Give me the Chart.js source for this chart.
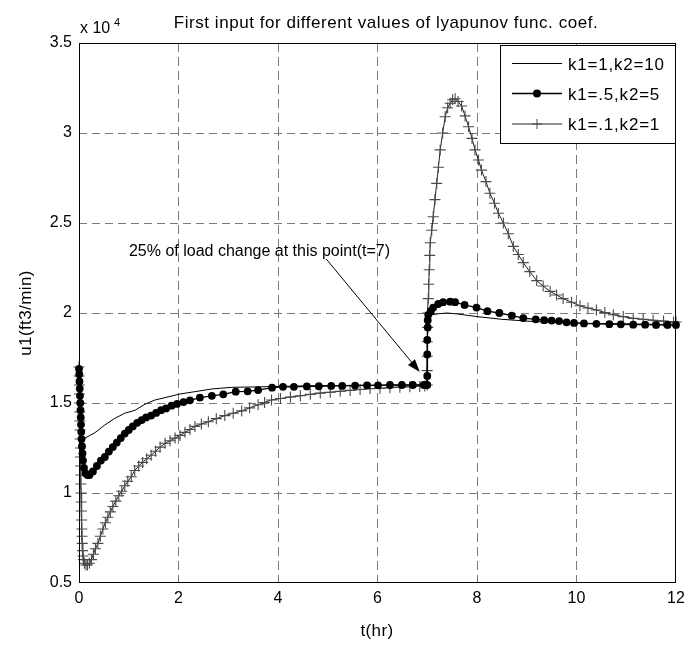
<!DOCTYPE html>
<html>
<head>
<meta charset="utf-8">
<script src="https://cdn.jsdelivr.net/npm/chart.js@4/dist/chart.umd.min.js"></script>
<style>
  html, body { margin: 0; padding: 0; background: #fff; }
  canvas { display: block; }
</style>
</head>
<body>
<canvas id="grafico" width="700" height="645"></canvas>
<script>
// u1 in units of 10^4 ft3/min, t in hours

// k1=1, k2=10
const tK1 = [0, 0.02, 0.12, 0.32, 0.52, 0.72, 0.92, 1.13, 1.33, 1.53, 1.73, 2.03, 2.33, 2.67, 3.07, 3.67, 4.5, 5.5, 6.5, 6.99,
  7.0, 7.02, 7.05, 7.1, 7.2, 7.4, 7.6, 8, 8.5, 9, 9.5, 10, 11, 12]
const uK1 = [1.68, 1.30, 1.305, 1.335, 1.378, 1.415, 1.443, 1.46, 1.494, 1.517, 1.53, 1.55, 1.563, 1.578, 1.587, 1.59, 1.595, 1.598, 1.6, 1.6,
  1.85, 1.95, 1.98, 1.99, 1.995, 2.0, 1.995, 1.98, 1.965, 1.955, 1.948, 1.943, 1.94, 1.935]

// k1=.5, k2=5
const tK05 = [0, 0.005, 0.01, 0.015, 0.02, 0.025, 0.03, 0.035, 0.04, 0.045, 0.05, 0.06, 0.07, 0.08, 0.1, 0.13, 0.17, 0.21,
  0.28, 0.36, 0.44, 0.52, 0.6, 0.68, 0.76, 0.84, 0.92, 1.0, 1.08, 1.17, 1.26, 1.35, 1.45, 1.55, 1.65, 1.75, 1.86, 1.97,
  2.1, 2.23, 2.43, 2.67, 2.9, 3.15, 3.39, 3.6, 3.88, 4.1, 4.32, 4.58, 4.82, 5.07, 5.29, 5.55, 5.79, 6.01, 6.25, 6.49, 6.71, 6.93,
  7.0, 7.0, 7.0, 7.0, 7.01, 7.01, 7.02, 7.07, 7.12, 7.22, 7.32, 7.46, 7.56, 7.75, 7.99, 8.21, 8.45, 8.7, 8.93, 9.18, 9.35,
  9.5, 9.65, 9.8, 9.95, 10.15, 10.4, 10.66, 10.89, 11.14, 11.38, 11.6, 11.83, 12.0]
const uK05 = [1.69, 1.66, 1.62, 1.58, 1.54, 1.50, 1.46, 1.42, 1.38, 1.34, 1.30, 1.26, 1.22, 1.18, 1.14, 1.11, 1.10, 1.10,
  1.12, 1.15, 1.18, 1.20, 1.23, 1.255, 1.28, 1.305, 1.33, 1.35, 1.37, 1.39, 1.405, 1.42, 1.43, 1.445, 1.46, 1.47, 1.485, 1.495,
  1.505, 1.515, 1.53, 1.54, 1.548, 1.563, 1.565, 1.572, 1.585, 1.59, 1.59, 1.592, 1.593, 1.595, 1.595, 1.597, 1.598, 1.598, 1.6, 1.6, 1.6, 1.6,
  1.6, 1.65, 1.77, 1.85, 1.92, 1.96, 1.99, 2.01, 2.03, 2.05, 2.06, 2.063, 2.06, 2.045, 2.03, 2.01, 2.0, 1.985, 1.972, 1.965, 1.96,
  1.958, 1.955, 1.948, 1.945, 1.942, 1.94, 1.938, 1.937, 1.935, 1.935, 1.934, 1.934, 1.934]

// k1=.1, k2=1
const tK01 = [0, 0.003, 0.006, 0.009, 0.012, 0.015, 0.018, 0.021, 0.024, 0.027, 0.03, 0.033, 0.036, 0.039, 0.042, 0.045, 0.048,
  0.052, 0.056, 0.06, 0.065, 0.07, 0.08, 0.09, 0.11, 0.14, 0.17, 0.21, 0.25, 0.29,
  0.33, 0.38, 0.43, 0.48, 0.53, 0.58, 0.63, 0.68, 0.74, 0.8, 0.86, 0.92, 0.98, 1.05, 1.12, 1.2, 1.28, 1.36, 1.45, 1.54,
  1.63, 1.73, 1.83, 1.93, 2.03, 2.13, 2.23, 2.33, 2.46, 2.6, 2.76, 2.93, 3.1, 3.27, 3.43, 3.6, 3.73, 3.87, 4.05, 4.25,
  4.45, 4.65, 4.85, 5.05, 5.25, 5.45, 5.65, 5.85, 6.05, 6.25, 6.45, 6.65, 6.85, 6.95,
  7.0, 7.0, 7.0, 7.0, 7.01, 7.01, 7.02, 7.03, 7.04, 7.05, 7.06, 7.09, 7.12, 7.155, 7.19, 7.225, 7.26, 7.31, 7.36, 7.41,
  7.46, 7.51, 7.56, 7.62, 7.69, 7.76, 7.83, 7.9, 7.96, 8.03, 8.09, 8.18, 8.26, 8.35, 8.43, 8.53, 8.63, 8.73, 8.83, 8.93,
  9.06, 9.2, 9.33, 9.47, 9.6, 9.73, 9.9, 10.07, 10.23, 10.4, 10.57, 10.74, 10.94, 11.14, 11.34, 11.54, 11.75, 11.95, 12.0]
const uK01 = [1.70, 1.65, 1.60, 1.55, 1.50, 1.45, 1.40, 1.35, 1.30, 1.25, 1.20, 1.15, 1.10, 1.05, 1.0, 0.95, 0.90,
  0.85, 0.80, 0.76, 0.72, 0.68, 0.65, 0.63, 0.61, 0.60, 0.60, 0.61, 0.63, 0.66,
  0.69, 0.72, 0.76, 0.80, 0.835, 0.865, 0.895, 0.925, 0.955, 0.985, 1.01, 1.04, 1.065, 1.09, 1.125, 1.15, 1.17, 1.19, 1.21, 1.232,
  1.255, 1.276, 1.29, 1.305, 1.32, 1.337, 1.353, 1.37, 1.383, 1.396, 1.413, 1.43, 1.443, 1.456, 1.473, 1.49, 1.503, 1.517, 1.525, 1.533,
  1.54, 1.548, 1.555, 1.56, 1.565, 1.57, 1.575, 1.58, 1.582, 1.585, 1.588, 1.59, 1.592, 1.594,
  1.6, 1.68, 1.76, 1.84, 1.92, 2.0, 2.08, 2.16, 2.24, 2.32, 2.39, 2.46, 2.535, 2.63, 2.72, 2.81, 2.906, 3.0, 3.09, 3.14,
  3.165, 3.185, 3.19, 3.175, 3.15, 3.095, 3.035, 2.97, 2.906, 2.85, 2.794, 2.73, 2.665, 2.61, 2.554, 2.5, 2.44, 2.37, 2.325, 2.28,
  2.23, 2.18, 2.15, 2.12, 2.1, 2.08, 2.06, 2.04, 2.028, 2.017, 2.003, 1.99, 1.98, 1.97, 1.965, 1.96, 1.955, 1.95, 1.95]

const rotulos = ['k1=1,k2=10', 'k1=.5,k2=5', 'k1=.1,k2=1']
const xTicks = [0, 2, 4, 6, 8, 10, 12]
const yTicks = [0.5, 1, 1.5, 2, 2.5, 3, 3.5]

// arrow of the note: tail and head, in (t, u1)
const notaTexto = '25% of load change at this point(t=7)'
const setaDe = { x: 4.97, y: 2.3 }
const setaAte = { x: 6.85, y: 1.672 }

const FONTE = 'Arial, "Liberation Sans", sans-serif'
const pontos = (ts, us) => ts.map((t, i) => ({ x: t, y: us[i] }))

const eixoBorda = v => (v === 0 || v === 12 || v === 0.5 || v === 3.5) ? 'rgba(0,0,0,0)' : '#7a7a7a'

// box, titles, legend and the note on top of the plot
const extras = {
  id: 'extras',
  afterDraw(chart) {
    const { ctx, chartArea: a, scales } = chart
    const sx = scales.x, sy = scales.y
    ctx.save()

    ctx.strokeStyle = '#000'
    ctx.lineWidth = 1
    ctx.setLineDash([])
    ctx.strokeRect(a.left + 0.5, a.top + 0.5, a.right - a.left - 1, a.bottom - a.top - 1)

    ctx.fillStyle = '#000'
    ctx.textBaseline = 'alphabetic'
    ctx.textAlign = 'center'
    ctx.font = '17px ' + FONTE
    ctx.letterSpacing = '0.55px'
    ctx.fillText('First input for different values of lyapunov func. coef.', 386, 28)

    ctx.letterSpacing = '0.4px'
    ctx.fillText('t(hr)', 377, 636)

    ctx.save()
    ctx.translate(31, (a.top + a.bottom) / 2)
    ctx.rotate(-Math.PI / 2)
    ctx.fillText('u1(ft3/min)', 0, 0)
    ctx.restore()

    ctx.letterSpacing = '0px'
    ctx.textAlign = 'left'
    ctx.font = '16px ' + FONTE
    ctx.fillText('x 10', 80, 33)
    ctx.font = '11px ' + FONTE
    ctx.fillText('4', 114, 26)

    // note and arrow
    ctx.font = '16px ' + FONTE
    ctx.textAlign = 'right'
    ctx.fillText(notaTexto, 390, 256)
    const x1 = sx.getPixelForValue(setaDe.x), y1 = sy.getPixelForValue(setaDe.y)
    const x2 = sx.getPixelForValue(setaAte.x), y2 = sy.getPixelForValue(setaAte.y)
    const ang = Math.atan2(y2 - y1, x2 - x1)
    ctx.beginPath()
    ctx.moveTo(x1, y1)
    ctx.lineTo(x2 - 10 * Math.cos(ang), y2 - 10 * Math.sin(ang))
    ctx.stroke()
    ctx.beginPath()
    ctx.moveTo(x2, y2)
    ctx.lineTo(x2 - 13 * Math.cos(ang) + 4.5 * Math.sin(ang), y2 - 13 * Math.sin(ang) - 4.5 * Math.cos(ang))
    ctx.lineTo(x2 - 13 * Math.cos(ang) - 4.5 * Math.sin(ang), y2 - 13 * Math.sin(ang) + 4.5 * Math.cos(ang))
    ctx.closePath()
    ctx.fill()

    // legend
    const lx = 500, ly = 45, lw = 175, lh = 98
    ctx.fillStyle = '#fff'
    ctx.fillRect(lx, ly, lw, lh)
    ctx.strokeStyle = '#000'
    ctx.strokeRect(lx + 0.5, ly + 0.5, lw, lh)
    const linhas = [63.5, 93.5, 124]
    chart.data.datasets.forEach((ds, i) => {
      const y = linhas[i]
      ctx.strokeStyle = ds.borderColor
      ctx.lineWidth = ds.borderWidth
      ctx.beginPath()
      ctx.moveTo(512, y)
      ctx.lineTo(562, y)
      ctx.stroke()
      if (ds.pointStyle === 'circle') {
        ctx.fillStyle = '#000'
        ctx.beginPath()
        ctx.arc(537, y, 4, 0, Math.PI * 2)
        ctx.fill()
      } else if (ds.pointStyle === 'cross') {
        ctx.strokeStyle = ds.pointBorderColor
        ctx.lineWidth = 1
        ctx.beginPath()
        ctx.moveTo(537, y - 5); ctx.lineTo(537, y + 5)
        ctx.moveTo(532, y); ctx.lineTo(542, y)
        ctx.stroke()
      }
      ctx.fillStyle = '#000'
      ctx.textAlign = 'left'
      ctx.font = '17px ' + FONTE
      ctx.letterSpacing = '0.8px'
      ctx.fillText(ds.label, 568, y + 6)
      ctx.letterSpacing = '0px'
    })
    ctx.restore()
  }
}

new Chart(document.getElementById('grafico'), {
  type: 'scatter',
  data: {
    datasets: [
      {
        label: rotulos[0],
        data: pontos(tK1, uK1),
        showLine: true,
        borderColor: '#000',
        borderWidth: 1,
        pointRadius: 0,
        clip: false
      },
      {
        label: rotulos[1],
        data: pontos(tK05, uK05),
        showLine: true,
        borderColor: '#000',
        borderWidth: 1.3,
        pointStyle: 'circle',
        pointRadius: 3.9,
        pointBackgroundColor: '#000',
        pointBorderColor: '#000',
        pointBorderWidth: 0,
        clip: false
      },
      {
        label: rotulos[2],
        data: pontos(tK01, uK01),
        showLine: true,
        borderColor: '#222',
        borderWidth: 1,
        pointStyle: 'cross',
        pointRadius: 5.5,
        pointBorderColor: '#4a4a4a',
        pointBorderWidth: 1.1,
        clip: false
      }
    ]
  },
  options: {
    responsive: false,
    animation: false,
    layout: { padding: { top: 43, right: 24, left: 0, bottom: 0 } },
    plugins: { legend: { display: false }, tooltip: { enabled: false } },
    scales: {
      x: {
        type: 'linear',
        min: 0,
        max: 12,
        afterBuildTicks: s => { s.ticks = xTicks.map(v => ({ value: v })) },
        afterFit: s => { s.height = 62 },
        ticks: { color: '#000', font: { family: FONTE, size: 16 }, padding: 6, maxRotation: 0, callback: v => String(v) },
        grid: { color: c => eixoBorda(c.tick ? c.tick.value : -1), lineWidth: 1, drawTicks: false },
        border: { display: false, dash: [9, 5] }
      },
      y: {
        type: 'linear',
        min: 0.5,
        max: 3.5,
        afterBuildTicks: s => { s.ticks = yTicks.map(v => ({ value: v })) },
        afterFit: s => { s.width = 79 },
        ticks: { color: '#000', font: { family: FONTE, size: 16 }, padding: 7, callback: v => String(v) },
        grid: { color: c => eixoBorda(c.tick ? c.tick.value : -1), lineWidth: 1, drawTicks: false },
        border: { display: false, dash: [8, 5] }
      }
    }
  },
  plugins: [extras]
})
</script>
</body>
</html>
